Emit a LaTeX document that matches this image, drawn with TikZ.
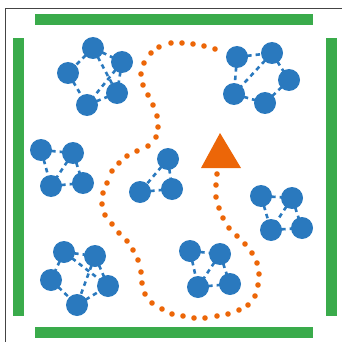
\documentclass[tikz,border=0pt]{standalone}
\definecolor{nblue}{HTML}{2A79BE}
\definecolor{bgreen}{HTML}{3AAB4B}
\definecolor{porange}{HTML}{EC6608}
\definecolor{frame}{HTML}{444444}
\begin{document}
\begin{tikzpicture}[x=1pt,y=-1pt,
  agent/.style={circle,fill=nblue,inner sep=0pt,minimum size=22pt},
  link/.style={draw=nblue,line width=2.6pt,dash pattern=on 4.5pt off 4pt,shorten <=-1pt,shorten >=-1pt},
  wall/.style={fill=bgreen},
  pathdot/.style={fill=porange}]
\useasboundingbox (0,0) rectangle (342,342);
% frame
\draw[frame,line width=1.2pt] (5.3,342) -- (5.3,8.3) -- (342,8.3);
% walls
\fill[wall] (35,14) rectangle (313,25);
\fill[wall] (35,327) rectangle (313,338);
\fill[wall] (12.7,38) rectangle (24,316);
\fill[wall] (326,38) rectangle (337,316);
% dotted path
\foreach \p in {(215,49),(204,46),(193,44),(182,43),(171,43),(159,47),(151,53),(144,63),(141,74),(143,85),(148,95),(153,105),(157,116),(158,127),(156,137),(148,146),(137,151),(127,156),(119,163),(112,171),(107,183),(103,193),(102,204),(105,215),(112,224),(119,233),(127,241),(133,250),(138,260),(141,272),(142,283),(145,294),(152,303),(162,309),(172,314),(183,316),(194,318),(205,318),(217,316),(228,314),(239,310),(248,305),(255,296),(258,285),(259,274),(257,263),(252,253),(245,244),(237,236),(229,228),(223,218),(219,208),(216,197),(216,185),(217,174)}
  \fill[pathdot] \p circle (2.8pt);
% goal triangle
\coordinate (t1) at (220,133);
\coordinate (t2) at (201,168);
\coordinate (t3) at (241,168);
\fill[porange] (t1) -- (t2) -- (t3) -- cycle;
% cluster 1
\node[agent] (a1) at (93,48) {};
\node[agent] (a2) at (122,62) {};
\node[agent] (a3) at (68,73) {};
\node[agent] (a4) at (117,93) {};
\node[agent] (a5) at (87,105) {};
% cluster 2
\node[agent] (b1) at (237,57) {};
\node[agent] (b2) at (272,53) {};
\node[agent] (b3) at (289,80) {};
\node[agent] (b4) at (234,94) {};
\node[agent] (b5) at (265,103) {};
% cluster 3
\node[agent] (c1) at (41,150) {};
\node[agent] (c2) at (73,153) {};
\node[agent] (c3) at (51,186) {};
\node[agent] (c4) at (83,183) {};
% cluster 4
\node[agent] (d1) at (168,159) {};
\node[agent] (d2) at (140,192) {};
\node[agent] (d3) at (172,189) {};
% cluster 6
\node[agent] (e1) at (261,196) {};
\node[agent] (e2) at (292,198) {};
\node[agent] (e3) at (271,230) {};
\node[agent] (e4) at (302,228) {};
% cluster 7
\node[agent] (f1) at (64,252) {};
\node[agent] (f2) at (95,256) {};
\node[agent] (f3) at (51,280) {};
\node[agent] (f4) at (108,286) {};
\node[agent] (f5) at (77,305) {};
% cluster 8
\node[agent] (g1) at (190,251) {};
\node[agent] (g2) at (220,254) {};
\node[agent] (g3) at (198,287) {};
\node[agent] (g4) at (230,284) {};
% links
\draw[link] (a1) -- (a2);
\draw[link] (a1) -- (a3);
\draw[link] (a1) -- (a4);
\draw[link] (a2) -- (a5);
\draw[link] (a2) -- (a4);
\draw[link] (a3) -- (a5);
\draw[link] (a5) -- (a4);
\draw[link] (b1) -- (b2);
\draw[link] (b1) -- (b4);
\draw[link] (b2) -- (b4);
\draw[link] (b2) -- (b3);
\draw[link] (b3) -- (b5);
\draw[link] (b4) -- (b5);
\draw[link] (c1) -- (c2);
\draw[link] (c1) -- (c3);
\draw[link] (c2) -- (c3);
\draw[link] (c2) -- (c4);
\draw[link] (c3) -- (c4);
\draw[link] (d1) -- (d2);
\draw[link] (d1) -- (d3);
\draw[link] (d2) -- (d3);
\draw[link] (e1) -- (e2);
\draw[link] (e1) -- (e3);
\draw[link] (e2) -- (e3);
\draw[link] (e2) -- (e4);
\draw[link] (e3) -- (e4);
\draw[link] (f1) -- (f2);
\draw[link] (f1) -- (f3);
\draw[link] (f1) -- (f4);
\draw[link] (f2) -- (f5);
\draw[link] (f2) -- (f4);
\draw[link] (f3) -- (f5);
\draw[link] (f5) -- (f4);
\draw[link] (g1) -- (g2);
\draw[link] (g1) -- (g3);
\draw[link] (g2) -- (g3);
\draw[link] (g2) -- (g4);
\draw[link] (g3) -- (g4);
\end{tikzpicture}
\end{document}
